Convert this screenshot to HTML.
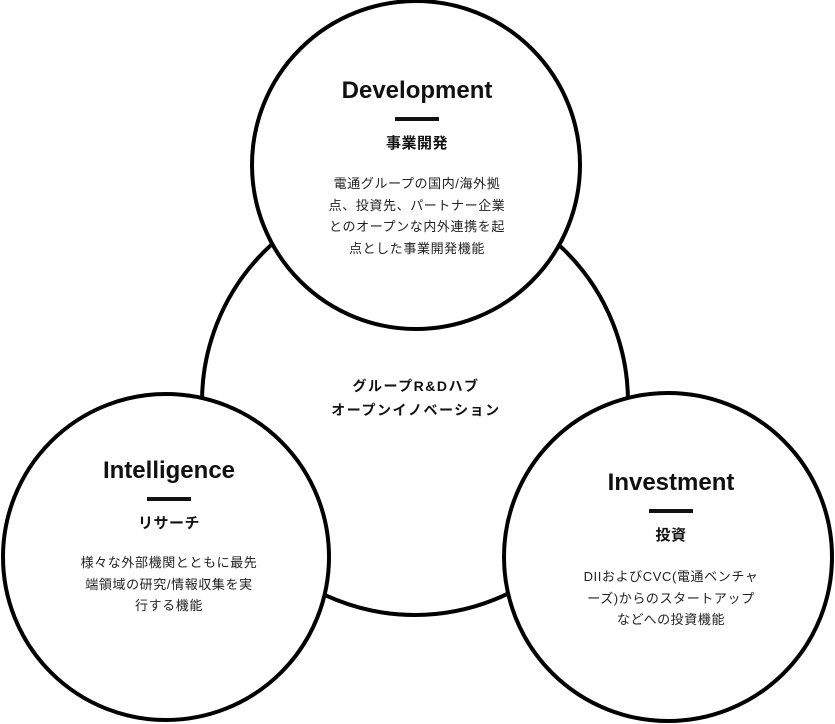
<!DOCTYPE html>
<html><head><meta charset="utf-8"><style>
body{margin:0;width:835px;height:724px;background:#fff;overflow:hidden;position:relative;font-family:"Liberation Sans","Noto Sans CJK JP",sans-serif;color:#111}
.t{position:absolute;text-align:center;transform:translateX(-50%);white-space:nowrap}
.h{font-weight:bold;font-size:24px;line-height:28px}
.s{font-weight:bold;font-size:15px;line-height:20px;letter-spacing:0.5px}
.b{font-size:13px;line-height:21.7px;color:#222;letter-spacing:0.6px}
.bar{position:absolute;height:4px;width:44px;background:#111;transform:translateX(-50%)}
</style></head><body>
<svg width="835" height="724" style="position:absolute;left:0;top:0">
<g fill="#fff" stroke="#000" stroke-width="4">
<circle cx="415" cy="402" r="213"/>
<circle cx="416" cy="165" r="164"/>
<circle cx="166" cy="557" r="163"/>
<circle cx="668" cy="557" r="164"/>
</g>
</svg>
<div class="t h" style="left:417px;top:77px">Development</div>
<div class="bar" style="left:417px;top:117px"></div>
<div class="t s" style="left:417px;top:134px">事業開発</div>
<div class="t b" style="left:417px;top:173px">電通グループの国内/海外拠<br>点、投資先、パートナー企業<br>とのオープンな内外連携を起<br>点とした事業開発機能</div>
<div class="t s" style="left:416px;top:374px;font-size:14px;line-height:24px;letter-spacing:1.5px">グループR&amp;Dハブ<br>オープンイノベーション</div>
<div class="t h" style="left:169px;top:457px">Intelligence</div>
<div class="bar" style="left:169px;top:497px"></div>
<div class="t s" style="left:169px;top:514px">リサーチ</div>
<div class="t b" style="left:169px;top:552px">様々な外部機関とともに最先<br>端領域の研究/情報収集を実<br>行する機能</div>
<div class="t h" style="left:671px;top:469px">Investment</div>
<div class="bar" style="left:671px;top:509px"></div>
<div class="t s" style="left:671px;top:526px">投資</div>
<div class="t b" style="left:671px;top:566px">DIIおよびCVC(電通ベンチャ<br>ーズ)からのスタートアップ<br>などへの投資機能</div>
</body></html>
